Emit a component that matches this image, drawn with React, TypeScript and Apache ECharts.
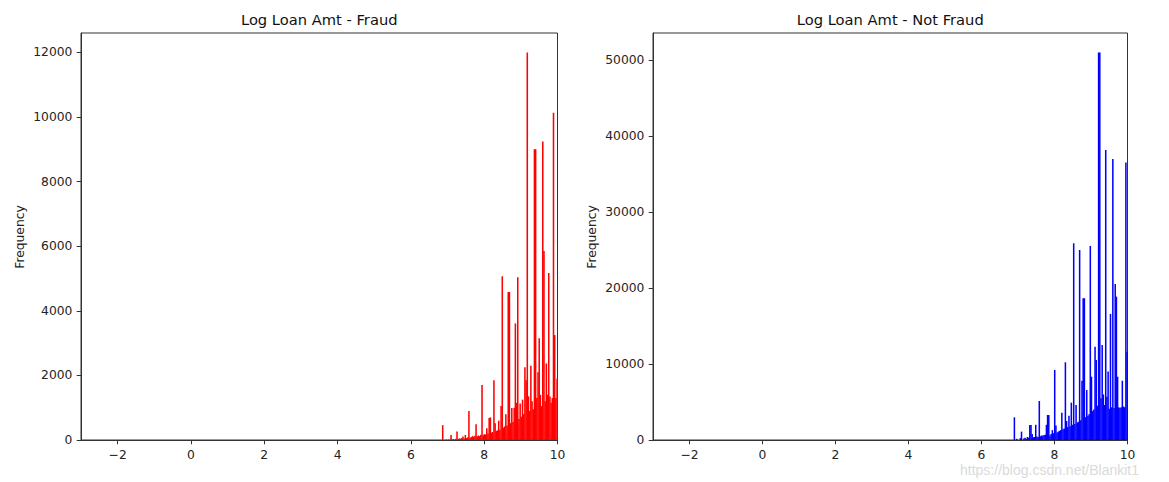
import React, { useEffect, useRef } from "react";
import * as echarts from "echarts";

// Histogram bins: left edge of first bin of the non-empty region and bin width (log loan amount units)
const BIN_START = 6.7825;
const BIN_WIDTH = 0.0325;

// Frequencies per bin, Fraud (bins from 6.7825 up to 10.0)
const fraudCounts = [
  0, 0, 460, 0, 0, 10, 0, 15, 0, 155,
  20, 30, 0, 40, 260, 30, 50, 40, 60, 110,
  50, 155, 60, 80, 900, 70, 90, 120, 100, 130,
  490, 110, 140, 120, 160, 1700, 150, 180, 170, 360,
  200, 680, 700, 230, 250, 1850, 520, 280, 300, 600,
  320, 1050, 5070, 380, 420, 800, 450, 4580, 4580, 520,
  990, 560, 1000, 3610, 1150, 5040, 650, 1130, 720, 1250,
  800, 2250, 1850, 12000, 1350, 900, 2300, 1200, 950, 9000,
  9000, 1300, 2100, 3150, 1400, 1050, 9240, 5850, 1200, 2370,
  1400, 5170, 1350, 1150, 1300, 10130, 3250, 1300, 1900,
];

// Frequencies per bin, Not Fraud (same bins)
const notFraudCounts = [
  0, 0, 0, 2990, 0, 150, 0, 0, 250, 1100,
  0, 200, 300, 150, 400, 300, 1970, 1970, 800, 350,
  400, 2000, 450, 400, 5130, 500, 600, 550, 650, 700,
  2000, 3290, 3290, 600, 800, 1300, 900, 9210, 1900, 1000,
  1100, 1200, 1300, 3600, 1400, 1500, 10220, 2500, 1700, 3200,
  1800, 4910, 2000, 25880, 2100, 4600, 2300, 2400, 25000, 2600,
  7800, 18650, 18650, 3000, 6580, 3200, 3400, 25530, 8330, 3800,
  4000, 12280, 10530, 4500, 51000, 51000, 5490, 12500, 6000, 4600,
  38160, 5700, 9000, 4100, 16580, 4300, 36980, 4200, 20530, 18860,
  8330, 4300, 4200, 4300, 7800, 4400, 4300, 36500, 11620,
];

const xTicks = [-2, 0, 2, 4, 6, 8, 10];
const fraudYTicks = [0, 2000, 4000, 6000, 8000, 10000, 12000];
const notFraudYTicks = [0, 10000, 20000, 30000, 40000, 50000];
const X_MIN = -3;
const X_MAX = 10;
const FRAUD_Y_MAX = 12600;
const NOT_FRAUD_Y_MAX = 53550;

const titles = ["Log Loan Amt - Fraud", "Log Loan Amt - Not Fraud"];
const yLabel = "Frequency";
const watermark = "https://blog.csdn.net/Blankit1";

function toBins(counts: number[]) {
  return counts
    .map((c, i) => [BIN_START + i * BIN_WIDTH, BIN_START + (i + 1) * BIN_WIDTH, c])
    .filter((d) => d[2] > 0);
}

const FONT = "DejaVu Sans";
const SPINE = "#333333";
const TEXT = "#222222";

function makeXAxis(gridIndex: number) {
  return {
    type: "value",
    gridIndex,
    min: X_MIN,
    max: X_MAX,
    splitLine: { show: false },
    axisLine: { show: true, onZero: false, lineStyle: { color: SPINE, width: 1 } },
    axisTick: { show: true, length: 4.3, customValues: xTicks, lineStyle: { color: SPINE, width: 1 } },
    axisLabel: {
      customValues: xTicks,
      formatter: (v: number) => String(v).replace("-", "\u2212"),
      fontFamily: FONT,
      fontSize: 12.3,
      color: TEXT,
      margin: 8.6,
    },
  };
}

function makeYAxis(gridIndex: number, max: number, ticks: number[]) {
  return {
    type: "value",
    gridIndex,
    min: 0,
    max,
    splitLine: { show: false },
    axisLine: { show: true, onZero: false, lineStyle: { color: SPINE, width: 1 } },
    axisTick: { show: true, length: 4.3, customValues: ticks, lineStyle: { color: SPINE, width: 1 } },
    axisLabel: {
      customValues: ticks,
      formatter: (v: number) => String(v),
      fontFamily: FONT,
      fontSize: 12.3,
      color: TEXT,
      margin: 8.6,
    },
  };
}

function makeSeries(idx: number, counts: number[], color: string) {
  return {
    type: "custom",
    xAxisIndex: idx,
    yAxisIndex: idx,
    clip: true,
    encode: { x: [0, 1], y: 2 },
    data: toBins(counts),
    renderItem: (params: any, api: any) => {
      const s = api.coord([api.value(0), api.value(2)]);
      const e = api.coord([api.value(1), 0]);
      return {
        type: "rect",
        shape: { x: s[0], y: s[1], width: e[0] - s[0] + 0.35, height: e[1] - s[1] },
        style: { fill: color },
      };
    },
  };
}

export default function App() {
  const ref = useRef<HTMLDivElement>(null);
  useEffect(() => {
    if (!ref.current) return;
    const chart = echarts.init(ref.current, undefined, { renderer: "svg" });
    const grids = [
      { left: 81, top: 33, width: 476.5, height: 407 },
      { left: 653, top: 33, width: 474.5, height: 407 },
    ];
    chart.setOption({
      animation: false,
      backgroundColor: "#ffffff",
      grid: grids.map((g) => ({ ...g, show: true, borderColor: SPINE, borderWidth: 1, backgroundColor: "transparent", containLabel: false })),
      xAxis: [makeXAxis(0), makeXAxis(1)],
      yAxis: [makeYAxis(0, FRAUD_Y_MAX, fraudYTicks), makeYAxis(1, NOT_FRAUD_Y_MAX, notFraudYTicks)],
      series: [makeSeries(0, fraudCounts, "#ff0000"), makeSeries(1, notFraudCounts, "#0000ff")],
      graphic: [
        {
          type: "text",
          x: grids[0].left + grids[0].width / 2,
          y: 19.5,
          style: { text: titles[0], font: `14.7px '${FONT}'`, fill: "#111", align: "center", verticalAlign: "middle" },
        },
        {
          type: "text",
          x: grids[1].left + grids[1].width / 2,
          y: 19.5,
          style: { text: titles[1], font: `14.7px '${FONT}'`, fill: "#111", align: "center", verticalAlign: "middle" },
        },
        {
          type: "text",
          x: 20,
          y: 237,
          rotation: Math.PI / 2,
          style: { text: yLabel, font: `12.3px '${FONT}'`, fill: TEXT, align: "center", verticalAlign: "middle" },
        },
        {
          type: "text",
          x: 592,
          y: 237,
          rotation: Math.PI / 2,
          style: { text: yLabel, font: `12.3px '${FONT}'`, fill: TEXT, align: "center", verticalAlign: "middle" },
        },
        {
          type: "text",
          x: 960,
          y: 470,
          style: { text: watermark, font: "14px 'Liberation Sans'", fill: "#dadada", align: "left", verticalAlign: "middle" },
        },
      ],
    });
    return () => chart.dispose();
  }, []);
  return <div ref={ref} style={{ position: "fixed", left: 0, top: 0, width: 1169, height: 482 }} />;
}
